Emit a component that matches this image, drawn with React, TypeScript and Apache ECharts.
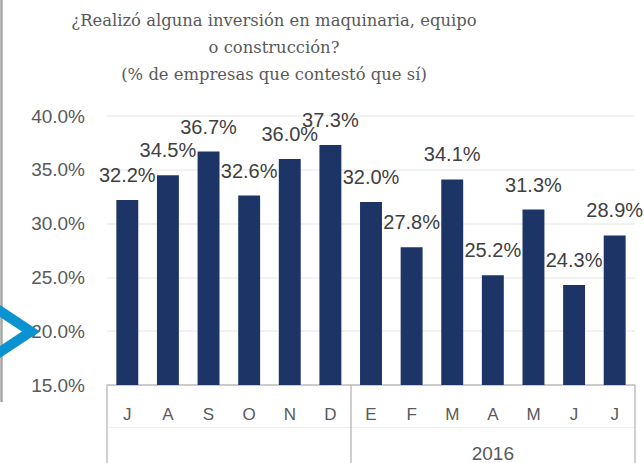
import React, { useEffect, useRef } from "react";
import * as echarts from "echarts";

const titleLines = [
  "¿Realizó alguna inversión en maquinaria, equipo",
  "o construcción?",
  "(% de empresas que contestó que sí)",
];
const months = ["J", "A", "S", "O", "N", "D", "E", "F", "M", "A", "M", "J", "J"];
const values = [32.2, 34.5, 36.7, 32.6, 36.0, 37.3, 32.0, 27.8, 34.1, 25.2, 31.3, 24.3, 28.9];
const yearGroups = [
  { name: "", from: 0, to: 5 },
  { name: "2016", from: 6, to: 12 },
];
const yMin = 15;
const yMax = 40;
const yStep = 5;

export default function App() {
  const ref = useRef<HTMLDivElement>(null);
  useEffect(() => {
    if (!ref.current) return;
    const chart = echarts.init(ref.current, null, { renderer: "svg" });
    const yearLabels = months.map(() => "");
    yearGroups.forEach((g) => {
      if (g.name) yearLabels[Math.round((g.from + g.to) / 2)] = g.name;
    });
    const boundaries = yearGroups.map((g) => g.from);
    const sans = "'Liberation Sans', Arial, sans-serif";
    chart.setOption({
      animation: false,
      backgroundColor: "#ffffff",
      title: {
        text: titleLines.join("\n"),
        left: 274,
        top: 7,
        padding: 0,
        textAlign: "center",
        textStyle: {
          fontFamily: "'DejaVu Serif', serif",
          fontSize: 16.4,
          fontWeight: "normal",
          color: "#595959",
          lineHeight: 27,
        },
      },
      grid: { left: 107, right: 9, top: 116, bottom: 77, containLabel: false },
      xAxis: [
        {
          type: "category",
          position: "bottom",
          data: months,
          axisLine: { show: true, lineStyle: { color: "#bfbfbf", width: 1.5 } },
          axisTick: {
            show: true,
            interval: (i: number) => boundaries.includes(i),
            length: 80,
            lineStyle: { color: "#bfbfbf", width: 1.5 },
          },
          axisLabel: { interval: 0, margin: 21, color: "#595959", fontSize: 17, fontFamily: sans },
          splitLine: { show: false },
        },
        {
          type: "category",
          position: "bottom",
          offset: 42,
          data: yearLabels,
          axisLine: { show: true, lineStyle: { color: "#efefef", width: 1 } },
          axisTick: { show: false },
          axisLabel: { interval: 0, margin: 17, color: "#595959", fontSize: 19, fontFamily: sans },
          splitLine: { show: false },
        },
      ],
      yAxis: {
        type: "value",
        min: yMin,
        max: yMax,
        interval: yStep,
        axisLine: { show: false },
        axisTick: { show: false },
        axisLabel: {
          margin: 22,
          color: "#595959",
          fontSize: 19,
          fontFamily: sans,
          padding: [8, 0, 0, 0],
          formatter: (v: number) => v.toFixed(1) + "%",
        },
        splitLine: { show: true, lineStyle: { color: "#eeeeee", width: 1.5 } },
      },
      series: [
        {
          type: "bar",
          xAxisIndex: 0,
          data: values,
          barWidth: "54%",
          itemStyle: { color: "#1d3566" },
          label: {
            show: true,
            position: "top",
            distance: 15,
            color: "#404040",
            fontSize: 20,
            fontFamily: sans,
            formatter: (p: any) => Number(p.value).toFixed(1) + "%",
          },
        },
      ],
      graphic: [
        {
          type: "line",
          shape: { x1: 1.5, y1: 0, x2: 1.5, y2: 402 },
          style: { stroke: "#a6a6a6", lineWidth: 2.5 },
          z: 10,
        },
        {
          type: "polyline",
          shape: { points: [[-3, 309], [31, 331.5], [-3, 354]] },
          style: { stroke: "#0a93d0", lineWidth: 10, lineJoin: "miter", fill: null },
          z: 11,
        },
      ],
    });
    return () => chart.dispose();
  }, []);
  return (
    <div
      ref={ref}
      style={{ position: "fixed", left: 0, top: 0, width: 644, height: 463 }}
    />
  );
}
